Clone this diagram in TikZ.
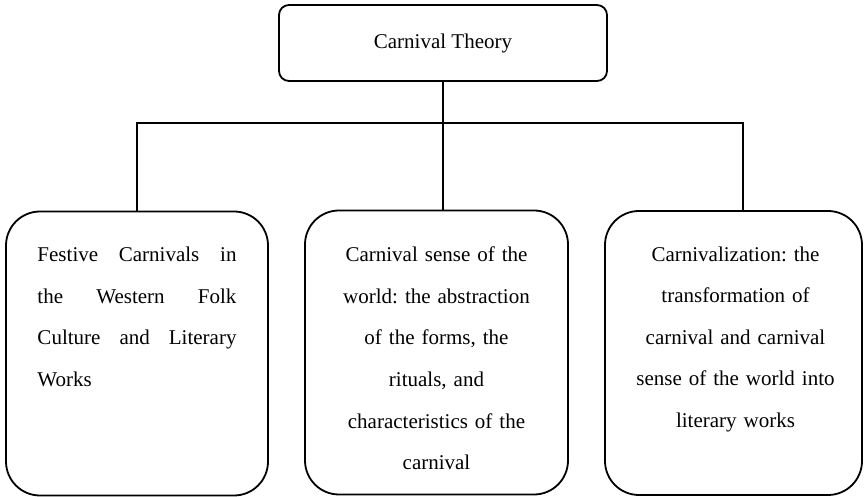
\documentclass[tikz,border=0pt]{standalone}
\usepackage{fontspec}
\setmainfont{Liberation Serif}
\frenchspacing
\usetikzlibrary{positioning}

\tikzset{
  topbox/.style={draw, line width=0.9pt, rounded corners=5pt, minimum width=164pt, minimum height=38pt},
  leafbox/.style={draw, line width=0.9pt, rounded corners=17pt, minimum height=142pt},
  leaftext/.style={inner sep=0pt, font=\fontsize{10.5pt}{20.8pt}\selectfont},
  wire/.style={line width=0.9pt}
}

\begin{document}
\begin{tikzpicture}[x=0.5pt,y=-0.5pt]
        \useasboundingbox (0,0) rectangle (864,497);

        \node[topbox, font=\fontsize{10.5pt}{12pt}\selectfont] (theory) at (443,43) {Carnival Theory};

        \node[leafbox, minimum width=131pt] (festive) at (137,353.5) {};
        \node[leafbox, minimum width=131.5pt] (sense) at (436.5,352.5) {};
        \node[leafbox, minimum width=128.5pt] (carnz) at (733.5,353) {};

        \node[leaftext, text width=99.5pt, align=justify, below=18pt of festive.north] (festivetext)
            {Festive Carnivals in\linebreak the Western Folk\linebreak Culture and Literary\linebreak Works};
        \node[leaftext, text width=100pt, align=center, below=18.5pt of sense.north] (sensetext)
            {Carnival sense of the\\ world: the abstraction\\ of the forms, the\\ rituals, and\\ characteristics of the\\ carnival};
        \node[leaftext, text width=100pt, align=center, below=18pt of carnz.north, xshift=1pt] (carnztext)
            {Carnivalization: the\\ transformation of\\ carnival and carnival\\ sense of the world into\\ literary works};

        % connectors
        \coordinate (busR) at (743,123);
        \draw[wire] (theory.south) -- (theory.south |- sense.north);
        \draw[wire] (festive.north) |- (busR) -- (busR |- carnz.north);

\end{tikzpicture}
\end{document}
